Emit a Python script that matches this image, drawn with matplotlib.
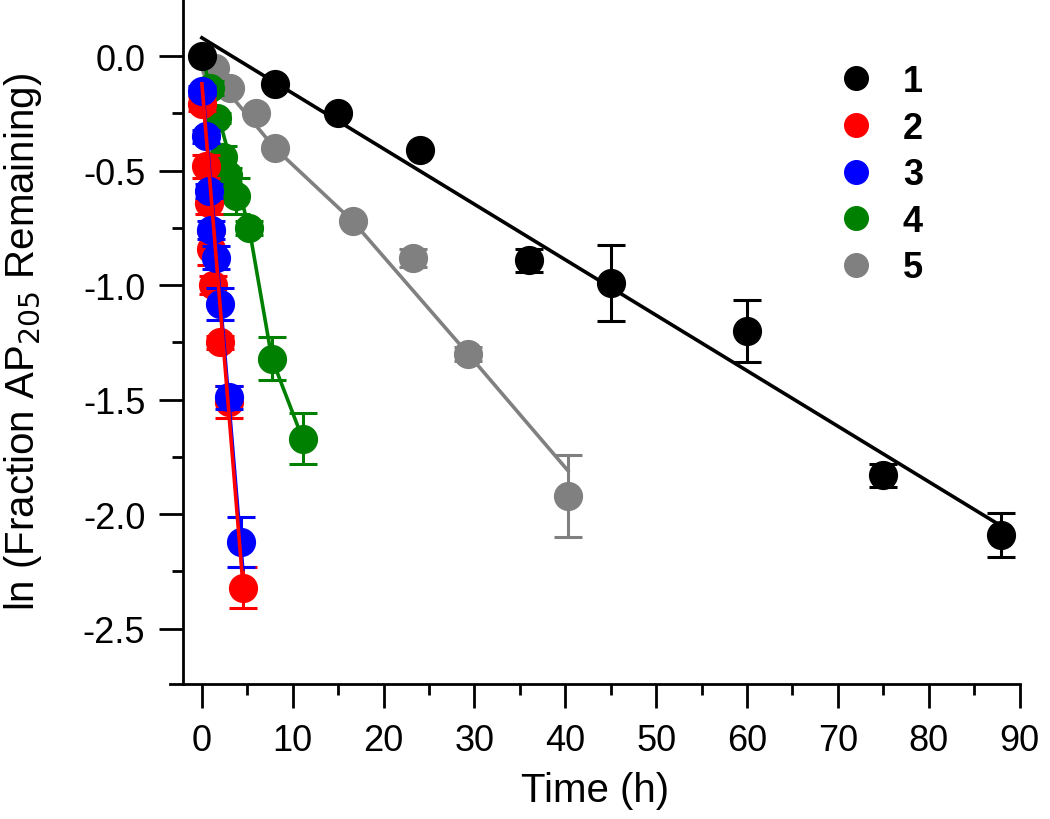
import numpy as np
import matplotlib
matplotlib.use('Agg')
import matplotlib.pyplot as plt
from matplotlib.lines import Line2D

plt.rcParams['font.family'] = ['Liberation Sans', 'DejaVu Sans']

# series 1 (black)
t1 = [0, 8, 15, 24, 36, 45, 60, 75, 88]
y1 = [0.0, -0.12, -0.25, -0.41, -0.89, -0.99, -1.20, -1.83, -2.09]
e1 = [0, 0, 0, 0, 0.05, 0.165, 0.135, 0.05, 0.095]

# series 2 (red)
t2 = [0, 0.5, 0.75, 1.0, 1.25, 2.0, 3.0, 4.5]
y2 = [-0.21, -0.48, -0.64, -0.84, -1.00, -1.25, -1.51, -2.32]
e2 = [0.03, 0.05, 0.05, 0.07, 0.04, 0.03, 0.07, 0.09]
fit2_t = [0, 4.5]
fit2_y = [-0.12, -2.30]

# series 3 (blue)
t3 = [0, 0.5, 0.75, 1.0, 1.5, 2.0, 3.0, 4.3]
y3 = [-0.15, -0.35, -0.59, -0.76, -0.88, -1.08, -1.49, -2.12]
e3 = [0.02, 0.03, 0.03, 0.04, 0.05, 0.07, 0.05, 0.11]
fit3_t = [0, 4.5]
fit3_y = [-0.10, -2.24]

# series 4 (green)
t4 = [0.9, 1.7, 2.3, 2.9, 3.8, 5.2, 7.7, 11.1]
y4 = [-0.14, -0.27, -0.44, -0.52, -0.61, -0.75, -1.32, -1.67]
e4 = [0.03, 0.02, 0.05, 0.03, 0.08, 0.03, 0.095, 0.11]
fit4_t = [0, 5.2, 7.7, 10.6]
fit4_y = [0.0, -0.75, -1.32, -1.62]

# series 5 (gray)
t5 = [1.4, 3.1, 6.0, 8.0, 16.6, 23.2, 29.3, 40.3]
y5 = [-0.05, -0.14, -0.25, -0.40, -0.72, -0.88, -1.30, -1.92]
e5 = [0, 0, 0, 0, 0, 0.04, 0.03, 0.18]
fit5_t = [0, 8.0, 16.6, 29.3, 40.3]
fit5_y = [-0.02, -0.40, -0.72, -1.30, -1.81]

labels = ['1', '2', '3', '4', '5']
colors = ['black', '#ff0000', '#0000ff', '#008000', '#808080']

fig = plt.figure(figsize=(10.5, 8.2), dpi=100)
ax = fig.add_axes([0.162, 0.165, 0.809, 0.835])

ms = 20
lw = 2.6
eb = dict(fmt='o', ms=ms, capsize=10, elinewidth=2.2, capthick=2.2)

# gray
ax.plot(fit5_t, fit5_y, color=colors[4], lw=lw, zorder=2)
ax.errorbar(t5, y5, yerr=e5, color=colors[4], zorder=3, **eb)
# green
ax.plot(fit4_t, fit4_y, color=colors[3], lw=lw, zorder=4)
ax.errorbar(t4, y4, yerr=e4, color=colors[3], zorder=5, **eb)
# red and blue
ax.errorbar(t2, y2, yerr=e2, color=colors[1], zorder=6, **eb)
ax.errorbar(t3, y3, yerr=e3, color=colors[2], zorder=7, **eb)
ax.plot(fit3_t, fit3_y, color=colors[2], lw=lw, zorder=8)
ax.plot(fit2_t, fit2_y, color=colors[1], lw=lw, zorder=8)
# black
k, b = np.polyfit(t1, y1, 1)
xx = np.array([0, 89])
ax.plot(xx, k * xx + b, color=colors[0], lw=lw, zorder=9)
ax.errorbar(t1, y1, yerr=e1, color=colors[0], zorder=10, **eb)

ax.set_xlim(-3.5, 90)
ax.set_ylim(-2.74, 0.25)
ax.spines['top'].set_visible(False)
ax.spines['right'].set_visible(False)
ax.spines['left'].set_position(('data', -2.1))
for s in ['left', 'bottom']:
    ax.spines[s].set_linewidth(2)

ax.set_xticks(np.arange(0, 91, 10))
ax.set_xticks(np.arange(5, 90, 10), minor=True)
ax.set_yticks([0.0, -0.5, -1.0, -1.5, -2.0, -2.5])
ax.set_yticklabels(['0.0', '-0.5', '-1.0', '-1.5', '-2.0', '-2.5'])
ax.set_yticks([-0.25, -0.75, -1.25, -1.75, -2.25], minor=True)
ax.tick_params(which='major', length=17, width=2, labelsize=26)
ax.tick_params(axis='x', which='major', pad=11)
ax.tick_params(axis='y', which='major', pad=10)
ax.tick_params(which='minor', length=8, width=2)

ax.set_xlabel('Time (h)', fontsize=29, labelpad=10)
ax.set_ylabel('ln (Fraction AP$_{205}$ Remaining)', fontsize=29, labelpad=28)

handles = [Line2D([], [], marker='o', ls='none', color=c, ms=17) for c in colors]
leg = ax.legend(handles, labels, loc='upper left', bbox_to_anchor=(0.748, 0.926),
                frameon=False, prop={'size': 26, 'weight': 'bold'},
                labelspacing=0.32, handletextpad=0.3, borderaxespad=0)

fig.savefig('out.png', dpi=100)
